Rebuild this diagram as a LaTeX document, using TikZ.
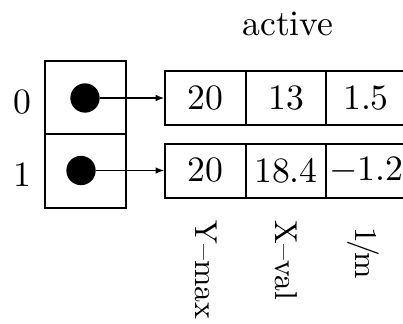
\documentclass[tikz,border=0pt]{standalone}
\usetikzlibrary{arrows.meta}
\begin{document}
\begin{tikzpicture}[x=0.3pt,y=-0.3pt,
  every node/.style={font=\fontsize{10.7}{13}\selectfont},
  slot/.style={draw,line width=0.6pt,minimum width=24.3pt,minimum height=22pt,inner sep=0pt},
  fld/.style={draw,line width=0.6pt,minimum width=24.2pt,minimum height=16.2pt,inner sep=0pt},
  dot/.style={circle,fill,minimum size=8.8pt,inner sep=0pt},
  ptr/.style={line width=0.35pt,-{Latex[length=2.6pt,width=2pt]}},
  lbl/.style={rotate=-90,anchor=base west,inner sep=0pt,font=\fontsize{9.5}{11}\selectfont}]
\useasboundingbox (0,0) rectangle (403,323);
\node[anchor=base] (active) at (288,35) {active};
% pointer table
\node[slot] (s0) at (85.5,97.5) {};
\node[slot] (s1) at (85.5,171) {};
\node[anchor=base] (i0) at (22,113) {0};
\node[anchor=base] (i1) at (22,186) {1};
\node[dot] (d0) at (85,98) {};
\node[dot] (d1) at (81,170.5) {};
% edge records
\node[fld] (r00) at (205.5,98) {20};
\node[fld] (r01) at (286,98) {13};
\node[fld] (r02) at (366,98) {1.5};
\node[fld] (r10) at (205.5,170.5) {20};
\node[fld] (r11) at (286,170.5) {18.4};
\node[fld] (r12) at (366,170.5) {$-$1.2};
\draw[ptr] (d0) -- (r00);
\draw[ptr] (d1) -- (r10);
% field names
\node[lbl] (ymax) at (195,220) {Y--max};
\node[lbl] (xval) at (275,220) {X--val};
\node[lbl] (slope) at (355,227) {1\kern-1pt/\kern-1pt m};
\end{tikzpicture}
\end{document}
